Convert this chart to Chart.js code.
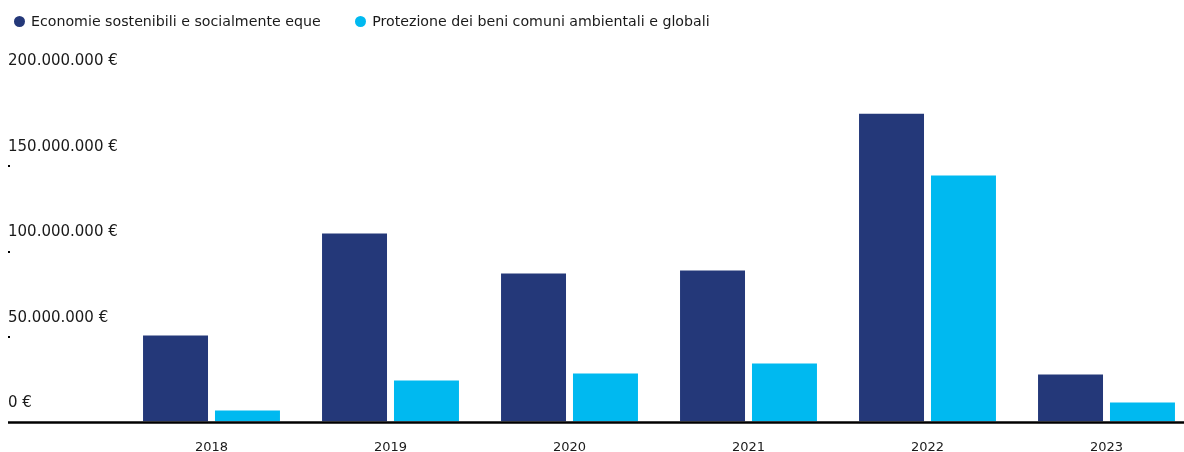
<!DOCTYPE html>
<html>
<head>
<meta charset="utf-8">
<script src="https://cdn.jsdelivr.net/npm/chart.js@4"></script>
<style>
    html, body { margin: 0; padding: 0; overflow: hidden; background: #fff; }
    #wrap { position: relative; width: 1196px; height: 452px; }
    #legenda {
        position: absolute; top: 12px; left: 13.5px;
        display: flex; gap: 34px;
        font: 14.2px "DejaVu Sans", sans-serif; color: #1a1a1a;
        line-height: 18px;
    }
    #legenda span { display: flex; align-items: center; }
    #legenda i {
        display: inline-block; width: 11px; height: 11px; border-radius: 50%;
        margin-right: 6.5px;
    }
</style>
</head>
<body>
<div id="wrap">
    <div id="legenda"></div>
    <canvas id="myChart"></canvas>
</div>
<script>
const anni = ["2018", "2019", "2020", "2021", "2022", "2023"];
const economie = [50300000, 110000000, 86500000, 88300000, 180000000, 27500000];
const protezione = [6400000, 24000000, 28100000, 33900000, 143900000, 11100000];
const tickValori = [0, 50000000, 100000000, 150000000, 200000000];

const fontTesto = "'DejaVu Sans', sans-serif";

function euro(v) {
    return String(v).replace(/\B(?=(\d{3})+(?!\d))/g, ".") + " €";
}

// linea di base nera e piccoli segni sulle righe intermedie
const assePlugin = {
    id: "assePlugin",
    afterDatasetsDraw(chart) {
        const ctx = chart.ctx;
        const y = chart.scales.y;
        const y0 = y.getPixelForValue(0);
        ctx.save();
        ctx.strokeStyle = "#000";
        ctx.lineWidth = 2.5;
        ctx.beginPath();
        ctx.moveTo(8, y0 + 1);
        ctx.lineTo(chart.width, y0 + 1);
        ctx.stroke();
        ctx.fillStyle = "#000";
        tickValori.slice(1, 4).forEach((v) => {
            ctx.fillRect(8, Math.round(y.getPixelForValue(v)), 2, 2);
        });
        ctx.restore();
    },
};

const myChart = new Chart(document.getElementById("myChart"), {
    type: "bar",
    data: {
        labels: anni,
        datasets: [
            {
                label: "Economie sostenibili e socialmente eque",
                data: economie,
                backgroundColor: "#243879",
                barPercentage: 0.903,
                categoryPercentage: 0.804,
            },
            {
                label: "Protezione dei beni comuni ambientali e globali",
                data: protezione,
                backgroundColor: "#00b9f0",
                barPercentage: 0.903,
                categoryPercentage: 0.804,
            },
        ],
    },
    options: {
        responsive: true,
        maintainAspectRatio: false,
        animation: false,
        layout: {
            padding: { left: 8, top: 79.5, right: 0, bottom: 0 },
        },
        plugins: {
            legend: { display: false },
            tooltip: { enabled: false },
        },
        scales: {
            x: {
                afterFit(scale) {
                    scale.height = 30.5;
                },
                grid: { display: false, drawTicks: false },
                border: { display: false },
                ticks: {
                    color: "#1a1a1a",
                    padding: 18,
                    font: { family: fontTesto, size: 13 },
                },
            },
            y: {
                min: 0,
                max: 200000000,
                afterFit(scale) {
                    scale.width = 114;
                },
                afterBuildTicks(scale) {
                    scale.ticks = tickValori.map((v) => ({ value: v }));
                },
                grid: { display: false },
                border: { display: false },
                ticks: {
                    crossAlign: "far",
                    labelOffset: -18,
                    color: "#1a1a1a",
                    font: { family: fontTesto, size: 15 },
                    callback: (v) => euro(v),
                },
            },
        },
    },
    plugins: [assePlugin],
});

// legenda HTML con i pallini colorati
const legenda = document.getElementById("legenda");
myChart.data.datasets.forEach((ds) => {
    const voce = document.createElement("span");
    const pallino = document.createElement("i");
    pallino.style.background = ds.backgroundColor;
    voce.appendChild(pallino);
    voce.appendChild(document.createTextNode(ds.label));
    legenda.appendChild(voce);
});
</script>
</body>
</html>
